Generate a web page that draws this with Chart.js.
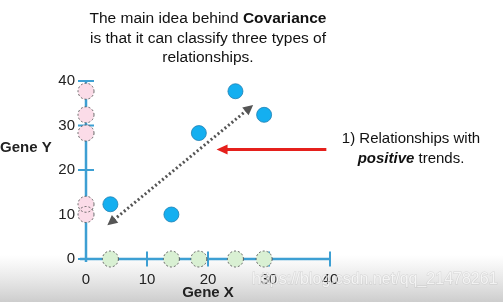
<!DOCTYPE html>
<html><head><meta charset="utf-8">
<script src="https://cdn.jsdelivr.net/npm/chart.js@4/dist/chart.umd.min.js"></script>
<style>html,body{margin:0;padding:0;background:#fff}#wrap{width:503px;height:302px;position:relative}</style>
</head><body><div id="wrap"><canvas id="c" width="503" height="302"></canvas></div>
<script>
// ---- data ----
const geneX = [4, 14, 18.5, 24.5, 29.2];
const geneY = [12.3, 10, 28.3, 37.7, 32.4];
const projY = [37.7, 32.4, 28.3, 12.3, 10];   // pink, on the Y axis (x = 0)
const projX = [4, 14, 18.5, 24.5, 29.2];      // green, on the X axis (y = 0)
const tickValues = [0, 10, 20, 30, 40];
const titleLines = [["The main idea behind ", "Covariance"], ["is that it can classify three types of"], ["relationships."]];
const noteLines = ["1) Relationships with", "positive", " trends."];
const trendArrow = [[3.5, 7.6], [27.4, 34.6]];
const redArrow = [[39.4, 24.6], [21.4, 24.6]];

const FONT = '"Liberation Sans", Arial, Helvetica, sans-serif';
const AXIS = '#3d9fd3';

function head(ctx, x1, y1, x2, y2, len, w, color) {
  const a = Math.atan2(y2 - y1, x2 - x1);
  ctx.save(); ctx.fillStyle = color; ctx.beginPath();
  ctx.moveTo(x2, y2);
  ctx.lineTo(x2 - len * Math.cos(a) + w * Math.sin(a), y2 - len * Math.sin(a) - w * Math.cos(a));
  ctx.lineTo(x2 - len * Math.cos(a) - w * Math.sin(a), y2 - len * Math.sin(a) + w * Math.cos(a));
  ctx.closePath(); ctx.fill(); ctx.restore();
}

const deco = {
  id: 'deco',
  beforeDraw(chart) {
    const ctx = chart.ctx, W = chart.width, H = chart.height;
    ctx.save();
    ctx.fillStyle = '#fff'; ctx.fillRect(0, 0, W, H);
    const g = ctx.createLinearGradient(0, 255, 0, H);
    g.addColorStop(0, 'rgba(215,215,215,0)');
    g.addColorStop(1, 'rgba(205,205,205,1)');
    ctx.fillStyle = g; ctx.fillRect(0, 255, W, H - 255);
    ctx.restore();
  },
  beforeDatasetsDraw(chart) {
    const ctx = chart.ctx, xs = chart.scales.x, ys = chart.scales.y;
    const x0 = xs.getPixelForValue(0), y0 = ys.getPixelForValue(0);
    ctx.save();
    ctx.strokeStyle = AXIS; ctx.lineWidth = 2.5;
    ctx.beginPath();
    ctx.moveTo(x0 - 6, y0); ctx.lineTo(xs.getPixelForValue(40), y0);
    ctx.moveTo(x0, y0 + 3); ctx.lineTo(x0, ys.getPixelForValue(40));
    ctx.stroke();
    ctx.lineWidth = 2;
    ctx.beginPath();
    tickValues.forEach(v => {
      const px = xs.getPixelForValue(v), py = ys.getPixelForValue(v);
      if (v !== 0) {
        ctx.moveTo(px, y0 - 7.5); ctx.lineTo(px, y0 + 7.5);
        ctx.moveTo(x0 - 8, py); ctx.lineTo(x0 + 8, py);
      } else {
        ctx.moveTo(x0 - 8, py); ctx.lineTo(x0, py);
      }
    });
    ctx.stroke();
    ctx.fillStyle = '#222'; ctx.font = '15px ' + FONT;
    ctx.textAlign = 'right'; ctx.textBaseline = 'middle';
    tickValues.forEach(v => ctx.fillText(String(v), x0 - 11, ys.getPixelForValue(v)));
    ctx.textAlign = 'center'; ctx.textBaseline = 'middle';
    tickValues.forEach(v => ctx.fillText(String(v), xs.getPixelForValue(v), y0 + 21));
    ctx.font = 'bold 15px ' + FONT;
    ctx.fillText('Gene X', xs.getPixelForValue(20), 293);
    ctx.textAlign = 'left';
    ctx.fillText('Gene Y', 0, 148);
    ctx.restore();
  },
  afterDatasetsDraw(chart) {
    const ctx = chart.ctx, xs = chart.scales.x, ys = chart.scales.y;
    ctx.save();
    [0, 1].forEach(i => {
      chart.getDatasetMeta(i).data.forEach(el => {
        ctx.beginPath(); ctx.setLineDash([2, 2]); ctx.lineWidth = 0.9;
        ctx.strokeStyle = '#555';
        ctx.arc(el.x, el.y, 8, 0, Math.PI * 2); ctx.stroke();
      });
    });
    ctx.setLineDash([]);
    const ax1 = xs.getPixelForValue(trendArrow[0][0]), ay1 = ys.getPixelForValue(trendArrow[0][1]);
    const ax2 = xs.getPixelForValue(trendArrow[1][0]), ay2 = ys.getPixelForValue(trendArrow[1][1]);
    const a = Math.atan2(ay2 - ay1, ax2 - ax1);
    ctx.strokeStyle = '#555'; ctx.lineWidth = 3; ctx.setLineDash([2, 2.5]);
    ctx.beginPath();
    ctx.moveTo(ax1 + 8 * Math.cos(a), ay1 + 8 * Math.sin(a));
    ctx.lineTo(ax2 - 8 * Math.cos(a), ay2 - 8 * Math.sin(a));
    ctx.stroke(); ctx.setLineDash([]);
    head(ctx, ax1, ay1, ax2, ay2, 10, 5, '#555');
    head(ctx, ax2, ay2, ax1, ay1, 10, 5, '#555');
    const rx1 = xs.getPixelForValue(redArrow[0][0]), ry1 = ys.getPixelForValue(redArrow[0][1]);
    const rx2 = xs.getPixelForValue(redArrow[1][0]), ry2 = ys.getPixelForValue(redArrow[1][1]);
    ctx.strokeStyle = '#e5201c'; ctx.lineWidth = 3;
    ctx.beginPath(); ctx.moveTo(rx1, ry1); ctx.lineTo(rx2 + 8, ry2); ctx.stroke();
    head(ctx, rx1, ry1, rx2, ry2, 11, 5, '#e5201c');
    const cx = (xs.getPixelForValue(0) + xs.getPixelForValue(40)) / 2;
    ctx.fillStyle = '#111'; ctx.textBaseline = 'middle'; ctx.textAlign = 'left';
    const ty = [19, 39, 58];
    titleLines.forEach((segs, li) => {
      const fonts = segs.map((s, k) => (k === 1 ? 'bold ' : '') + '15.5px ' + FONT);
      let w = 0; segs.forEach((s, k) => { ctx.font = fonts[k]; w += ctx.measureText(s).width; });
      let x = cx - w / 2;
      segs.forEach((s, k) => { ctx.font = fonts[k]; ctx.fillText(s, x, ty[li]); x += ctx.measureText(s).width; });
    });
    const nx = 411;
    ctx.font = '15px ' + FONT; ctx.textAlign = 'center';
    ctx.fillText(noteLines[0], nx, 139);
    ctx.textAlign = 'left';
    const f1 = 'italic bold 15px ' + FONT, f2 = '15px ' + FONT;
    ctx.font = f1; const w1 = ctx.measureText(noteLines[1]).width;
    ctx.font = f2; const w2 = ctx.measureText(noteLines[2]).width;
    let x = nx - (w1 + w2) / 2;
    ctx.font = f1; ctx.fillText(noteLines[1], x, 159);
    ctx.font = f2; ctx.fillText(noteLines[2], x + w1, 159);
    ctx.font = '16px ' + FONT; ctx.textAlign = 'left';
    ctx.fillStyle = 'rgba(255,255,255,0.7)';
    ctx.strokeStyle = 'rgba(160,160,160,0.3)'; ctx.lineWidth = 1;
    ctx.strokeText('https://blog.csdn.net/qq_21478261', 252, 280);
    ctx.fillText('https://blog.csdn.net/qq_21478261', 252, 280);
    ctx.restore();
  }
};

new Chart(document.getElementById('c'), {
  type: 'scatter',
  data: {
    datasets: [
      { data: projY.map(v => ({ x: 0, y: v })), backgroundColor: '#fbdce8', borderWidth: 0, pointRadius: 8, clip: false },
      { data: projX.map(v => ({ x: v, y: 0 })), backgroundColor: '#d9f0d3', borderWidth: 0, pointRadius: 8, clip: false },
      { data: geneX.map((v, i) => ({ x: v, y: geneY[i] })), backgroundColor: '#14aff0', borderColor: '#1d7fb3', borderWidth: 0.8, pointRadius: 7.5, clip: false }
    ]
  },
  options: {
    responsive: false, animation: false, events: [],
    layout: { padding: { left: 86, right: 173, top: 81, bottom: 43 } },
    plugins: { legend: { display: false }, tooltip: { enabled: false }, title: { display: false } },
    scales: {
      x: { type: 'linear', min: 0, max: 40, display: false },
      y: { type: 'linear', min: 0, max: 40, display: false }
    }
  },
  plugins: [deco]
});
</script></body></html>
